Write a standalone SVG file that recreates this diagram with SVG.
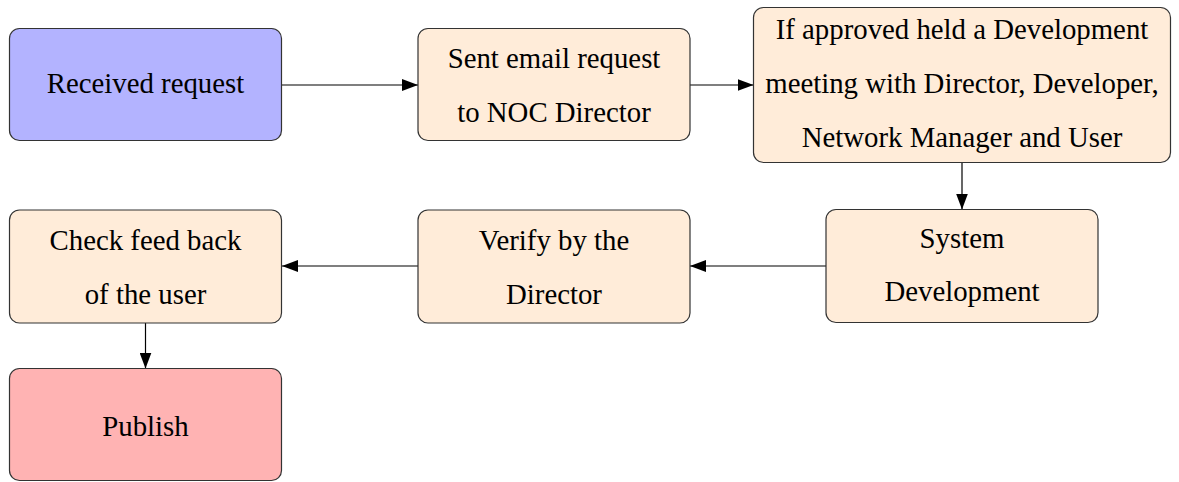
<svg xmlns="http://www.w3.org/2000/svg" width="1179" height="482" viewBox="0 0 1179 482">
  <style>
    .box { stroke: #333333; stroke-width: 1.2; }
    .start { fill: #b3b3ff; }
    .step { fill: #ffecd9; }
    .end { fill: #ffb3b3; }
    text { font-family: 'Liberation Serif', 'Times New Roman', serif; font-size: 28.8px; fill: #000000; text-anchor: middle; }
    .edge { stroke: #000000; stroke-width: 1.2; fill: none; marker-end: url(#arrow); }
  </style>
  <defs>
    <marker id="arrow" viewBox="0 0 16 12" refX="16" refY="6" markerWidth="16" markerHeight="12" markerUnits="userSpaceOnUse" orient="auto">
      <path d="M0,0 L16,6 L0,12 Z" fill="#000000"/>
    </marker>
  </defs>
  <rect width="1179" height="482" fill="#ffffff"/>

  <g id="connectors">
    <line class="edge" x1="282" y1="85" x2="418" y2="85"/>
    <line class="edge" x1="690" y1="85" x2="753.5" y2="85"/>
    <line class="edge" x1="962" y1="162.5" x2="962" y2="209.5"/>
    <line class="edge" x1="826" y1="266" x2="690" y2="266"/>
    <line class="edge" x1="418" y1="266" x2="282" y2="266"/>
    <line class="edge" x1="145.5" y1="323" x2="145.5" y2="368.5"/>
  </g>

  <g id="received">
    <rect class="box start" x="9.5" y="28.5" width="272" height="112" rx="10"/>
    <text x="145.5" y="93">Received request</text>
  </g>

  <g id="sent-email">
    <rect class="box step" x="418" y="28.5" width="272" height="112" rx="10"/>
    <text x="554" y="68">Sent email request</text>
    <text x="554" y="121.5">to NOC Director</text>
  </g>

  <g id="meeting">
    <rect class="box step" x="753.5" y="7.5" width="417" height="155" rx="10"/>
    <text x="962" y="38.5">If approved held a Development</text>
    <text x="962" y="92.5">meeting with Director, Developer,</text>
    <text x="962" y="146.5">Network Manager and User</text>
  </g>

  <g id="system-development">
    <rect class="box step" x="826" y="209.5" width="272" height="113" rx="10"/>
    <text x="962" y="247.5">System</text>
    <text x="962" y="300.5">Development</text>
  </g>

  <g id="verify">
    <rect class="box step" x="418" y="210" width="272" height="113" rx="10"/>
    <text x="554" y="249.5">Verify by the</text>
    <text x="554" y="303.5">Director</text>
  </g>

  <g id="feedback">
    <rect class="box step" x="9.5" y="210" width="272" height="113" rx="10"/>
    <text x="145.5" y="249.5">Check feed back</text>
    <text x="145.5" y="303.5">of the user</text>
  </g>

  <g id="publish">
    <rect class="box end" x="9.5" y="368.5" width="272" height="112" rx="10"/>
    <text x="145.5" y="436">Publish</text>
  </g>
</svg>
